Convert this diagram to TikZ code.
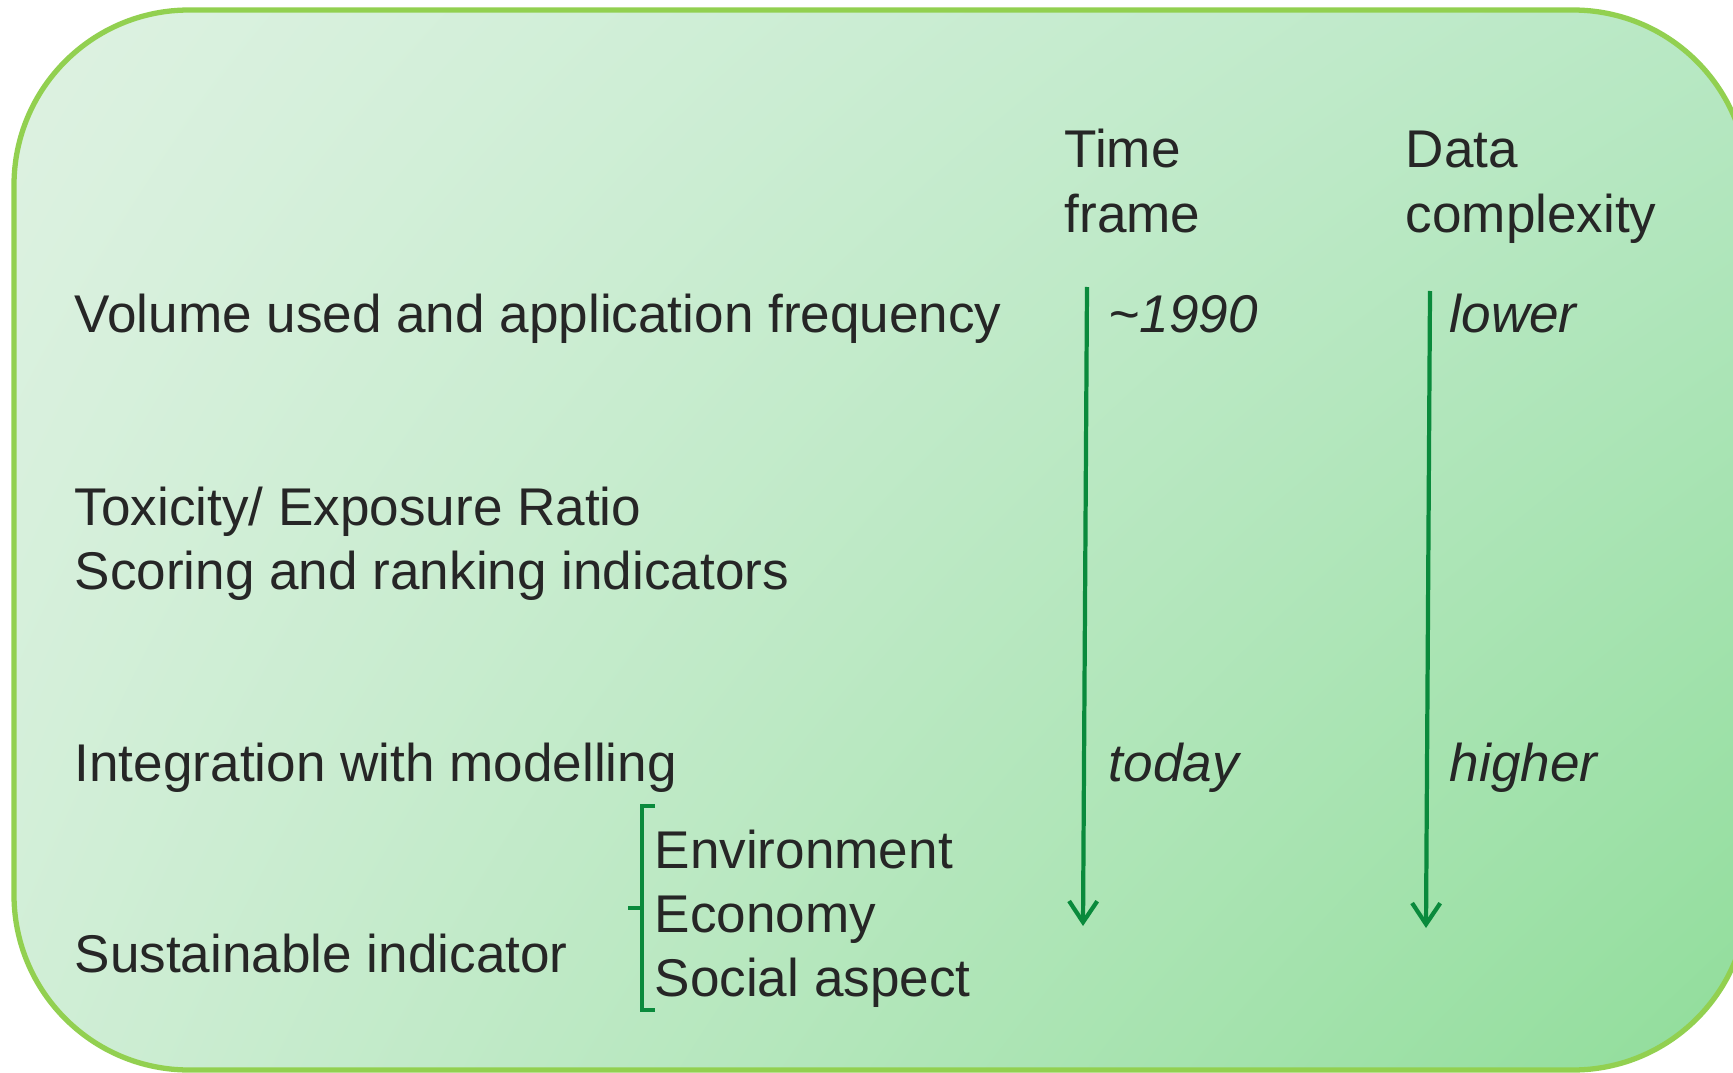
\documentclass[tikz,border=0pt]{standalone}
\usepackage{fontspec}
\setmainfont{Liberation Sans}
\usetikzlibrary{shadings,arrows.meta}
\definecolor{txt}{HTML}{262626}
\definecolor{arr}{HTML}{0A8A3C}
\definecolor{frame}{HTML}{92D050}
\definecolor{cTL}{RGB}{222,242,226}
\definecolor{cTR}{RGB}{184,232,196}
\definecolor{cBL}{RGB}{208,238,214}
\definecolor{cBR}{RGB}{144,221,154}
\begin{document}
\begin{tikzpicture}[x=0.01cm,y=-0.01cm,
  lbl/.style={anchor=base west,inner sep=0pt,text=txt,font=\fontsize{15.1}{18}\selectfont},
  ilbl/.style={lbl,font=\fontsize{15.1}{18}\selectfont\itshape},
  arrline/.style={draw=arr,line width=1.2pt,-{Straight Barb[length=6pt,width=8pt]}},
  brace/.style={draw=arr,line width=1.2pt}]
\useasboundingbox (0,0) rectangle (1733,1073);
\clip (0,0) rectangle (1733,1073);
\shade[rounded corners=1.75cm,upper left=cTL,upper right=cTR,lower left=cBL,lower right=cBR]
  (14,10) rectangle (1748,1070);
\draw[frame,line width=1.5pt,rounded corners=1.75cm] (14,10) rectangle (1748,1070);

% column heads
\node[lbl] (time) at (1064,168) {Time};
\node[lbl] (frame) at (1064,232) {frame};
\node[lbl] (data) at (1405,168) {Data};
\node[lbl] (cplx) at (1405,232) {complexity};

% rows
\node[lbl] (vol) at (74,332) {Volume used and application frequency};
\node[lbl] (tox) at (74,525) {Toxicity/ Exposure Ratio};
\node[lbl] (score) at (74,589) {Scoring and ranking indicators};
\node[lbl] (integ) at (74,781) {Integration with modelling};
\node[lbl] (sust) at (74,972) {Sustainable indicator};

\node[lbl] (env) at (654,868) {Environment};
\node[lbl] (eco) at (654,932) {Economy};
\node[lbl] (soc) at (654,996) {Social aspect};

\node[ilbl] (y1990) at (1108,332) {\char"007E 1990};
\node[ilbl] (today) at (1108,781) {today};
\node[ilbl] (lower) at (1449,332) {lower};
\node[ilbl] (higher) at (1449,781) {higher};

% arrows
\coordinate (a1s) at (1087,287);
\coordinate (a1e) at (1083,926);
\coordinate (a2s) at (1430,291);
\coordinate (a2e) at (1426,928);
\draw[arrline] (a1s) -- (a1e);
\draw[arrline] (a2s) -- (a2e);

% brace
\coordinate (bt) at (655,806);
\coordinate (bb) at (655,1010);
\coordinate (bm) at (628,908);
\draw[brace] (bt) -- (642,806) -- (642,1010) -- (bb);
\draw[brace] (bm) -- (642,908);
\end{tikzpicture}
\end{document}
